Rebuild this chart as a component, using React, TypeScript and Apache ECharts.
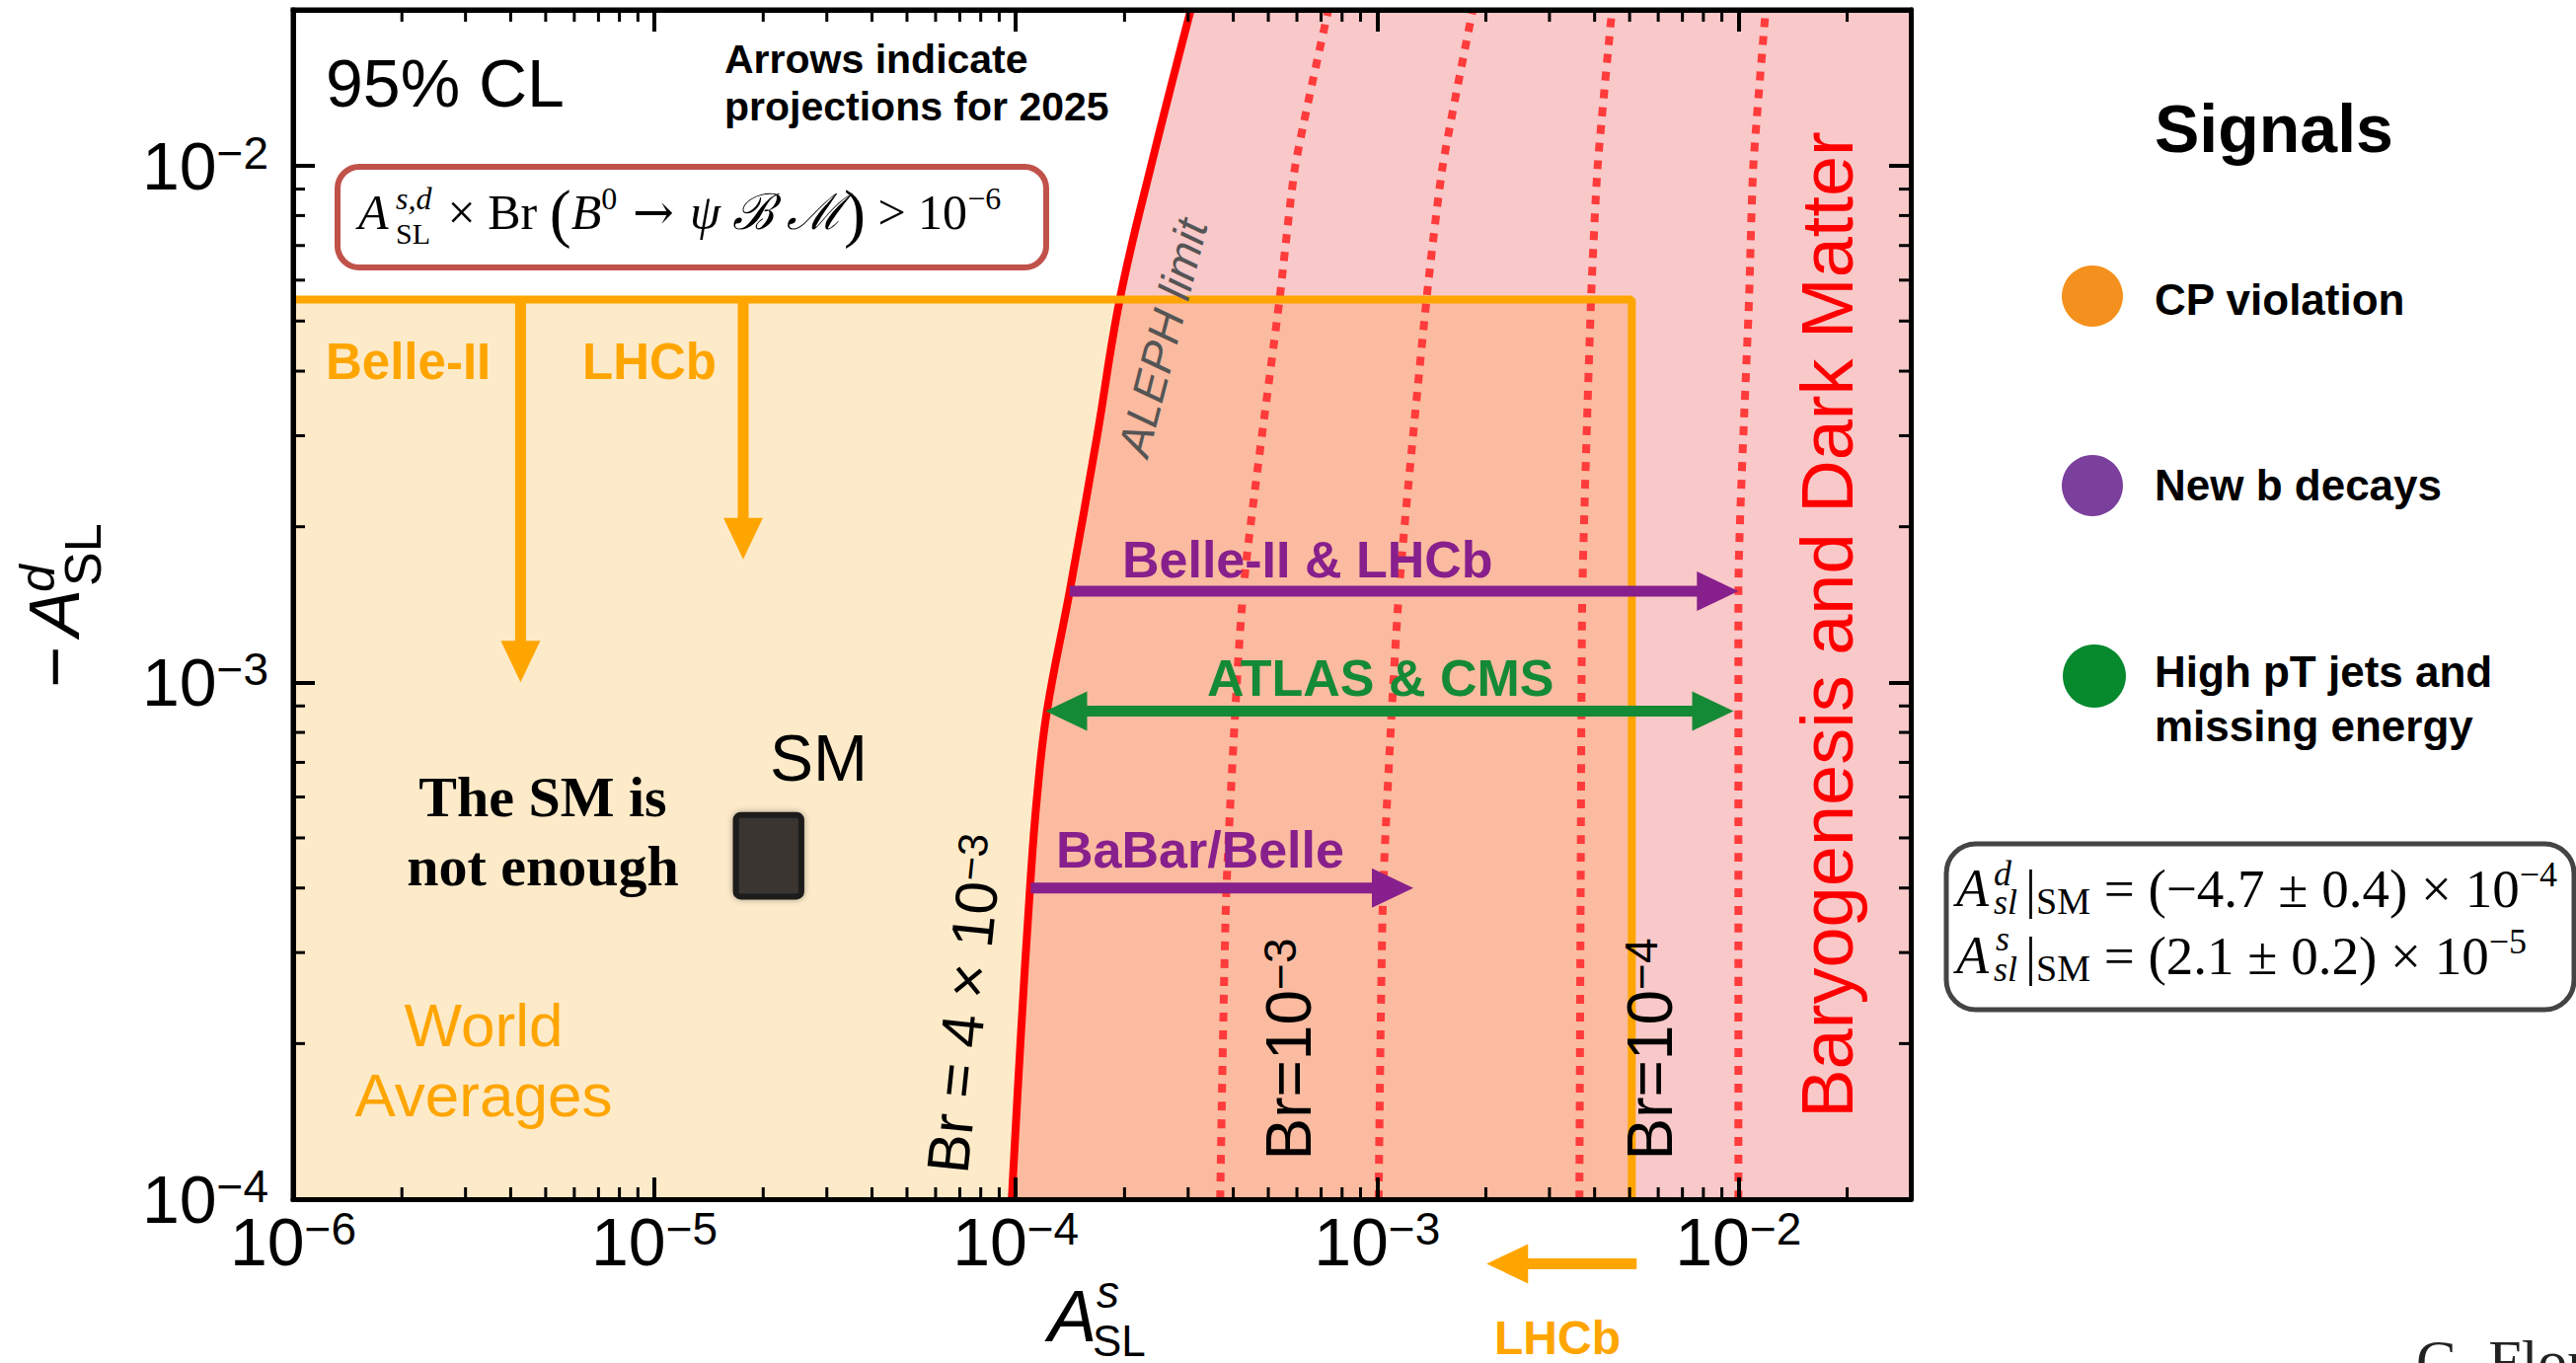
import React, { useEffect, useRef } from "react";
import * as echarts from "echarts";

const SANS = '"Liberation Sans", Arial, Helvetica, sans-serif';
const SERIF = '"Liberation Serif", "Times New Roman", "DejaVu Serif", serif';

// ---- axis ranges / ticks ----
const X_MIN = 1e-6;
const X_MAX = 3e-2;
const Y_MIN = 1e-4;
const Y_MAX = 2e-2;
const xDecades = [1e-6, 1e-5, 1e-4, 1e-3, 1e-2];
const yDecades = [1e-4, 1e-3, 1e-2];
const minorMultipliers = [2, 3, 4, 5, 6, 7, 8, 9];

// ---- ALEPH limit (Br = 4e-3) curve ----
const alephY = [1e-4, 2e-4, 4e-4, 6e-4, 8.8e-4, 1.5e-3, 3e-3, 5.5e-3, 1e-2, 2e-2];
const alephX = [0.975e-4, 1.03e-4, 1.095e-4, 1.145e-4, 1.22e-4, 1.41e-4, 1.68e-4, 1.94e-4, 2.37e-4, 3.05e-4];

// ---- dotted Br curves ----
const brY = [1e-4, 4e-4, 1.5e-3, 5.5e-3, 1e-2, 2e-2];
const br1X = [3.68e-4, 3.83e-4, 4.26e-4, 5.37e-4, 5.94e-4, 7.33e-4];
const br2X = [1.01e-3, 1.04e-3, 1.15e-3, 1.37e-3, 1.52e-3, 1.84e-3];
const br3X = [3.63e-3, 3.66e-3, 3.7e-3, 3.91e-3, 4.08e-3, 4.47e-3];
const br4X = [1.0e-2, 1.0e-2, 1.0e-2, 1.07e-2, 1.1e-2, 1.19e-2];

// ---- world averages box corner ----
const worldAvgX = 5.07e-3;
const worldAvgY = 5.5e-3;

// ---- SM point box [x1, y1, x2, y2] ----
const smBox = [1.68e-5, 3.85e-4, 2.55e-5, 5.54e-4];

// ---- arrows [x1, y1, x2, y2, doubleHeaded] ----
const orangeArrows = [
  [4.26e-6, 5.5e-3, 4.26e-6, 1.0e-3, 0],
  [1.76e-5, 5.5e-3, 1.76e-5, 1.73e-3, 0],
];
const purpleArrows = [
  [1.41e-4, 1.5e-3, 1.0e-2, 1.5e-3, 0],
  [1.1e-4, 4.0e-4, 1.26e-3, 4.0e-4, 0],
];
const greenArrows = [[1.21e-4, 8.8e-4, 0.97e-2, 8.8e-4, 1]];
const lhcbBelowArrow = [[5.23e-3, 7.5e-5, 2.01e-3, 7.5e-5, 0]];

// ---- colours ----
const C_BEIGE = "#FDEAC9";
const C_PINK = "#F9C8C8";
const C_SALMON = "#FBBBA0";
const C_RED = "#FF0000";
const C_DOT = "#FF3B3B";
const C_ORANGE = "#FFA500";
const C_PURPLE = "#871F8C";
const C_GREEN = "#158A36";

const pairs = (xs: number[], ys: number[]) => xs.map((x, i) => [x, ys[i]]);

function buildMinor(decades: number[], max: number) {
  const out: number[] = [];
  decades.forEach((d) => minorMultipliers.forEach((m) => { if (m * d < max * 0.999) out.push(m * d); }));
  return out;
}
const minorX = buildMinor(xDecades, X_MAX);
const minorY = buildMinor(yDecades, Y_MAX);

function regionSeries(name: string, color: string, pts: number[][]) {
  return {
    type: "custom", name, coordinateSystem: "cartesian2d", z: 1, silent: true, clip: false,
    data: [[X_MIN, Y_MIN]],
    renderItem: (_p: any, api: any) => ({
      type: "polygon",
      shape: { points: pts.map((p) => api.coord(p)), smooth: 0 },
      style: { fill: color },
    }),
  };
}

function arrowSeries(name: string, color: string, data: number[][]) {
  return {
    type: "custom", name, coordinateSystem: "cartesian2d", z: 6, silent: true, clip: false,
    data,
    renderItem: (_p: any, api: any) => {
      const a = api.coord([api.value(0), api.value(1)]);
      const b = api.coord([api.value(2), api.value(3)]);
      const dbl = api.value(4) === 1;
      const dx = b[0] - a[0], dy = b[1] - a[1];
      const len = Math.hypot(dx, dy) || 1;
      const ux = dx / len, uy = dy / len, px = -uy, py = ux;
      const HL = 42, HW = 20, SW = 11;
      const head = (t: number[], ddx: number, ddy: number) => ({
        type: "polygon",
        shape: { points: [[t[0], t[1]], [t[0] - ddx * HL + px * HW, t[1] - ddy * HL + py * HW], [t[0] - ddx * HL - px * HW, t[1] - ddy * HL - py * HW]] },
        style: { fill: color },
      });
      const s = dbl ? [a[0] + ux * HL * 0.8, a[1] + uy * HL * 0.8] : a;
      const e = [b[0] - ux * HL * 0.8, b[1] - uy * HL * 0.8];
      const children: any[] = [
        { type: "line", shape: { x1: s[0], y1: s[1], x2: e[0], y2: e[1] }, style: { stroke: color, lineWidth: SW } },
        head(b, ux, uy),
      ];
      if (dbl) children.push(head(a, -ux, -uy));
      return { type: "group", children };
    },
  };
}

function lineSeries(name: string, xs: number[], ys: number[], color: string, width: number, smooth: number, dash?: number[]) {
  return {
    type: "line", name, data: pairs(xs, ys), symbol: "none", showSymbol: false, silent: true, z: 4,
    smooth,
    lineStyle: { color, width, type: dash || "solid", cap: "butt" },
  };
}

const expLabel = (v: number) => {
  const e = Math.round(Math.log10(v));
  return `{b|10}{s|\u2212${Math.abs(e)}}`;
};
const tickRich = {
  b: { fontSize: 68, fontFamily: SANS, lineHeight: 72, color: "#000" },
  s: { fontSize: 46, fontFamily: SANS, lineHeight: 38, verticalAlign: "top", color: "#000" },
};

const baseAxis = {
  type: "log", logBase: 10, z: 10,
  axisLine: { show: true, onZero: false, lineStyle: { color: "#000", width: 5 } },
  axisTick: { show: true, inside: true, length: 22, lineStyle: { color: "#000", width: 4 } },
  splitLine: { show: false },
  minorTick: { show: false },
};

// ---- graphic helpers ----
function rs(size: number, o: any = {}) {
  return {
    fontSize: size, fontFamily: o.family || SANS, fontStyle: o.style || "normal", fontWeight: o.weight || "normal",
    fill: o.color || "#000", lineHeight: o.lh, verticalAlign: o.va,
  };
}
function txt(x: number, y: number, text: string, size: number, o: any = {}) {
  return {
    type: "text", x, y, z: 50, silent: true, rotation: o.rotation || 0,
    style: {
      text, fill: o.color || "#000", fontSize: size, fontFamily: o.family || SANS,
      fontWeight: o.weight || "normal", fontStyle: o.style || "normal",
      align: o.align || "left", verticalAlign: "middle", lineHeight: o.lh, rich: o.rich,
    },
  };
}

const graphics: any[] = [
  // top-left annotations
  txt(330, 84, "95% CL", 68),
  txt(734, 60, "Arrows indicate", 41, { weight: "bold" }),
  txt(734, 108, "projections for 2025", 41, { weight: "bold" }),
  // formula box
  { type: "rect", z: 50, silent: true, shape: { x: 342, y: 169, width: 718, height: 102, r: 22 }, style: { fill: "#fff", stroke: "#C0524A", lineWidth: 6 } },
  txt(363, 215, "A", 50, { family: SERIF, style: "italic" }),
  txt(401, 201, "s,d", 32, { family: SERIF, style: "italic" }),
  txt(401, 236, "SL", 30, { family: SERIF }),
  txt(441, 215, "{n| × Br }{p|(}{i|B}{u|0}{a| → }{i|ψ ℬ ℳ}{p|)}{n| > 10}{u|\u22126}", 50, {
    family: SERIF,
    rich: {
      n: rs(50, { family: SERIF, lh: 60 }),
      a: rs(50, { family: '"DejaVu Serif", serif', lh: 60 }),
      i: rs(50, { family: SERIF, style: "italic", lh: 60 }),
      p: rs(66, { family: SERIF, lh: 60 }),
      u: rs(32, { family: SERIF, lh: 30, va: "top" }),
    },
  }),
  // orange labels
  txt(330, 366, "Belle-II", 51, { weight: "bold", color: C_ORANGE }),
  txt(590, 366, "LHCb", 51, { weight: "bold", color: C_ORANGE }),
  // SM
  txt(780, 768, "SM", 66),
  txt(550, 807, "The SM is", 58, { family: SERIF, weight: "bold", align: "center" }),
  txt(550, 877, "not enough", 58, { family: SERIF, weight: "bold", align: "center" }),
  txt(490, 1038, "World", 62, { color: C_ORANGE, align: "center" }),
  txt(490, 1109, "Averages", 62, { color: C_ORANGE, align: "center" }),
  // ALEPH
  txt(1178, 342, "ALEPH limit", 46, { style: "italic", color: "#555", align: "center", rotation: 1.32 }),
  // Br labels
  txt(978, 1017, "Br = 4 × 10{s|\u22123}", 60, {
    align: "center", rotation: 1.466,
    rich: { s: rs(42, { lh: 34, va: "top" }) },
  }),
  txt(1306, 1063, "Br=10{s|\u22123}", 64, { align: "center", rotation: Math.PI / 2, rich: { s: rs(46, { lh: 36, va: "top" }) } }),
  txt(1672, 1063, "Br=10{s|\u22124}", 64, { align: "center", rotation: Math.PI / 2, rich: { s: rs(46, { lh: 36, va: "top" }) } }),
  txt(1851, 633, "Baryogenesis and Dark Matter", 74, { color: C_RED, align: "center", rotation: Math.PI / 2 }),
  // experiment labels
  txt(1137, 567, "Belle-II & LHCb", 52, { weight: "bold", color: C_PURPLE }),
  txt(1223, 687, "ATLAS & CMS", 52, { weight: "bold", color: C_GREEN }),
  txt(1070, 861, "BaBar/Belle", 52, { weight: "bold", color: C_PURPLE }),
  txt(1578, 1355, "LHCb", 48, { weight: "bold", color: C_ORANGE, align: "center" }),
  // x axis title
  txt(1062, 1333, "A", 74, { style: "italic" }),
  txt(1111, 1309, "s", 46, { style: "italic" }),
  txt(1107, 1358, "SL", 44),
  // y axis title (rotated)
  txt(55, 697, "\u2212", 72, { rotation: Math.PI / 2 }),
  txt(55, 645, "A", 72, { style: "italic", rotation: Math.PI / 2 }),
  txt(38, 600, "d", 50, { style: "italic", rotation: Math.PI / 2 }),
  txt(84, 594, "SL", 52, { rotation: Math.PI / 2 }),
  // legend
  txt(2183, 130, "Signals", 68, { weight: "bold" }),
  { type: "circle", z: 50, silent: true, shape: { cx: 2120, cy: 300, r: 31 }, style: { fill: "#F4911E" } },
  { type: "circle", z: 50, silent: true, shape: { cx: 2120, cy: 492, r: 31 }, style: { fill: "#7B3F9C" } },
  { type: "circle", z: 50, silent: true, shape: { cx: 2122, cy: 685, r: 32 }, style: { fill: "#07892E" } },
  txt(2183, 303, "CP violation", 44, { weight: "bold" }),
  txt(2183, 491, "New b decays", 44, { weight: "bold" }),
  txt(2183, 680, "High pT jets and", 44, { weight: "bold" }),
  txt(2183, 735, "missing energy", 44, { weight: "bold" }),
  // SM values box
  { type: "rect", z: 50, silent: true, shape: { x: 1972, y: 855, width: 636, height: 168, r: 30 }, style: { fill: "#fff", stroke: "#444", lineWidth: 5 } },
  txt(1982, 900, "A", 54, { family: SERIF, style: "italic" }),
  txt(2020, 885, "d", 36, { family: SERIF, style: "italic" }),
  txt(2020, 914, "sl", 36, { family: SERIF, style: "italic" }),
  txt(2052, 900, "|{m|SM} = (\u22124.7 ± 0.4) × 10{u|\u22124}", 55, {
    family: SERIF,
    rich: { m: rs(38, { family: SERIF, lh: 40, va: "bottom" }), u: rs(36, { family: SERIF, lh: 36, va: "top" }) },
    lh: 64,
  }),
  txt(1982, 968, "A", 54, { family: SERIF, style: "italic" }),
  txt(2022, 951, "s", 36, { family: SERIF, style: "italic" }),
  txt(2020, 982, "sl", 36, { family: SERIF, style: "italic" }),
  txt(2052, 968, "|{m|SM} = (2.1 ± 0.2) × 10{u|\u22125}", 55, {
    family: SERIF,
    rich: { m: rs(38, { family: SERIF, lh: 40, va: "bottom" }), u: rs(36, { family: SERIF, lh: 36, va: "top" }) },
    lh: 64,
  }),
  txt(2448, 1379, "G. Flor", 60, { family: SERIF, color: "#222" }),
];

const overlapPts = [
  ...pairs(alephX, alephY).filter((p) => p[1] <= worldAvgY),
  [worldAvgX, worldAvgY],
  [worldAvgX, Y_MIN],
];
const pinkPts = [...pairs(alephX, alephY), [X_MAX, Y_MAX], [X_MAX, Y_MIN]];
const beigePts = [[X_MIN, Y_MIN], [X_MIN, worldAvgY], [worldAvgX, worldAvgY], [worldAvgX, Y_MIN]];

const option: any = {
  animation: false,
  backgroundColor: "#fff",
  grid: { left: 297, top: 10, width: 1639, height: 1205, show: true, borderColor: "#000", borderWidth: 5, backgroundColor: "transparent", containLabel: false, outerBoundsMode: "none" },
  xAxis: [
    { ...baseAxis, position: "bottom", min: X_MIN, max: X_MAX,
      axisLabel: { show: true, margin: 7, showMaxLabel: false, formatter: expLabel, rich: tickRich } },
    { ...baseAxis, position: "top", min: X_MIN, max: X_MAX, axisLabel: { show: false } },
  ],
  yAxis: [
    { ...baseAxis, position: "left", min: Y_MIN, max: Y_MAX,
      axisLabel: { show: true, margin: 25, showMaxLabel: false, formatter: expLabel, rich: tickRich } },
    { ...baseAxis, position: "right", min: Y_MIN, max: Y_MAX, axisLabel: { show: false } },
  ],
  series: [
    regionSeries("beige", C_BEIGE, beigePts),
    regionSeries("pink", C_PINK, pinkPts),
    regionSeries("overlap", C_SALMON, overlapPts),
    lineSeries("Br 1", br1X, brY, C_DOT, 8, 0.2, [9, 9]),
    lineSeries("Br 2", br2X, brY, C_DOT, 8, 0.2, [9, 9]),
    lineSeries("Br 3", br3X, brY, C_DOT, 8, 0.2, [9, 9]),
    lineSeries("Br 4", br4X, brY, C_DOT, 8, 0.2, [9, 9]),
    lineSeries("ALEPH", alephX, alephY, C_RED, 8, 0.4),
    {
      type: "line", name: "World averages", symbol: "none", silent: true, z: 5,
      data: [[X_MIN, worldAvgY], [worldAvgX, worldAvgY], [worldAvgX, Y_MIN]],
      lineStyle: { color: C_ORANGE, width: 8 },
    },
    {
      type: "custom", name: "SM", coordinateSystem: "cartesian2d", z: 6, silent: true,
      data: [smBox],
      renderItem: (_p: any, api: any) => {
        const a = api.coord([api.value(0), api.value(1)]);
        const b = api.coord([api.value(2), api.value(3)]);
        return {
          type: "rect",
          shape: { x: Math.min(a[0], b[0]), y: Math.min(a[1], b[1]), width: Math.abs(b[0] - a[0]), height: Math.abs(b[1] - a[1]), r: 5 },
          style: { fill: "#3A3530", stroke: "#1C1C1C", lineWidth: 6, shadowBlur: 6, shadowColor: "rgba(0,0,0,0.35)" },
        };
      },
    },
    arrowSeries("orange arrows", C_ORANGE, orangeArrows),
    arrowSeries("purple arrows", C_PURPLE, purpleArrows),
    arrowSeries("green arrows", C_GREEN, greenArrows),
    arrowSeries("LHCb future", C_ORANGE, lhcbBelowArrow),
    {
      type: "custom", name: "minor x", coordinateSystem: "cartesian2d", z: 20, silent: true,
      data: minorX.map((v) => [v, Y_MIN]),
      renderItem: (_p: any, api: any) => {
        const p = api.coord([api.value(0), Y_MIN]);
        const q = api.coord([api.value(0), Y_MAX]);
        return { type: "group", children: [
          { type: "line", shape: { x1: p[0], y1: p[1], x2: p[0], y2: p[1] - 12 }, style: { stroke: "#000", lineWidth: 3 } },
          { type: "line", shape: { x1: q[0], y1: q[1], x2: q[0], y2: q[1] + 12 }, style: { stroke: "#000", lineWidth: 3 } },
        ] };
      },
    },
    {
      type: "custom", name: "minor y", coordinateSystem: "cartesian2d", z: 20, silent: true,
      data: minorY.map((v) => [X_MIN, v]),
      renderItem: (_p: any, api: any) => {
        const p = api.coord([X_MIN, api.value(1)]);
        const q = api.coord([X_MAX, api.value(1)]);
        return { type: "group", children: [
          { type: "line", shape: { x1: p[0], y1: p[1], x2: p[0] + 12, y2: p[1] }, style: { stroke: "#000", lineWidth: 3 } },
          { type: "line", shape: { x1: q[0], y1: q[1], x2: q[0] - 12, y2: q[1] }, style: { stroke: "#000", lineWidth: 3 } },
        ] };
      },
    },
  ],
  graphic: graphics,
};

export default function App() {
  const ref = useRef<HTMLDivElement>(null);
  useEffect(() => {
    const chart = echarts.init(ref.current!, null, { renderer: "svg", width: 2610, height: 1381 });
    chart.setOption(option);
    return () => chart.dispose();
  }, []);
  return (
    <div
      ref={ref}
      style={{ position: "fixed", left: 0, top: 0, width: 2610, height: 1381, background: "#fff" }}
    />
  );
}
